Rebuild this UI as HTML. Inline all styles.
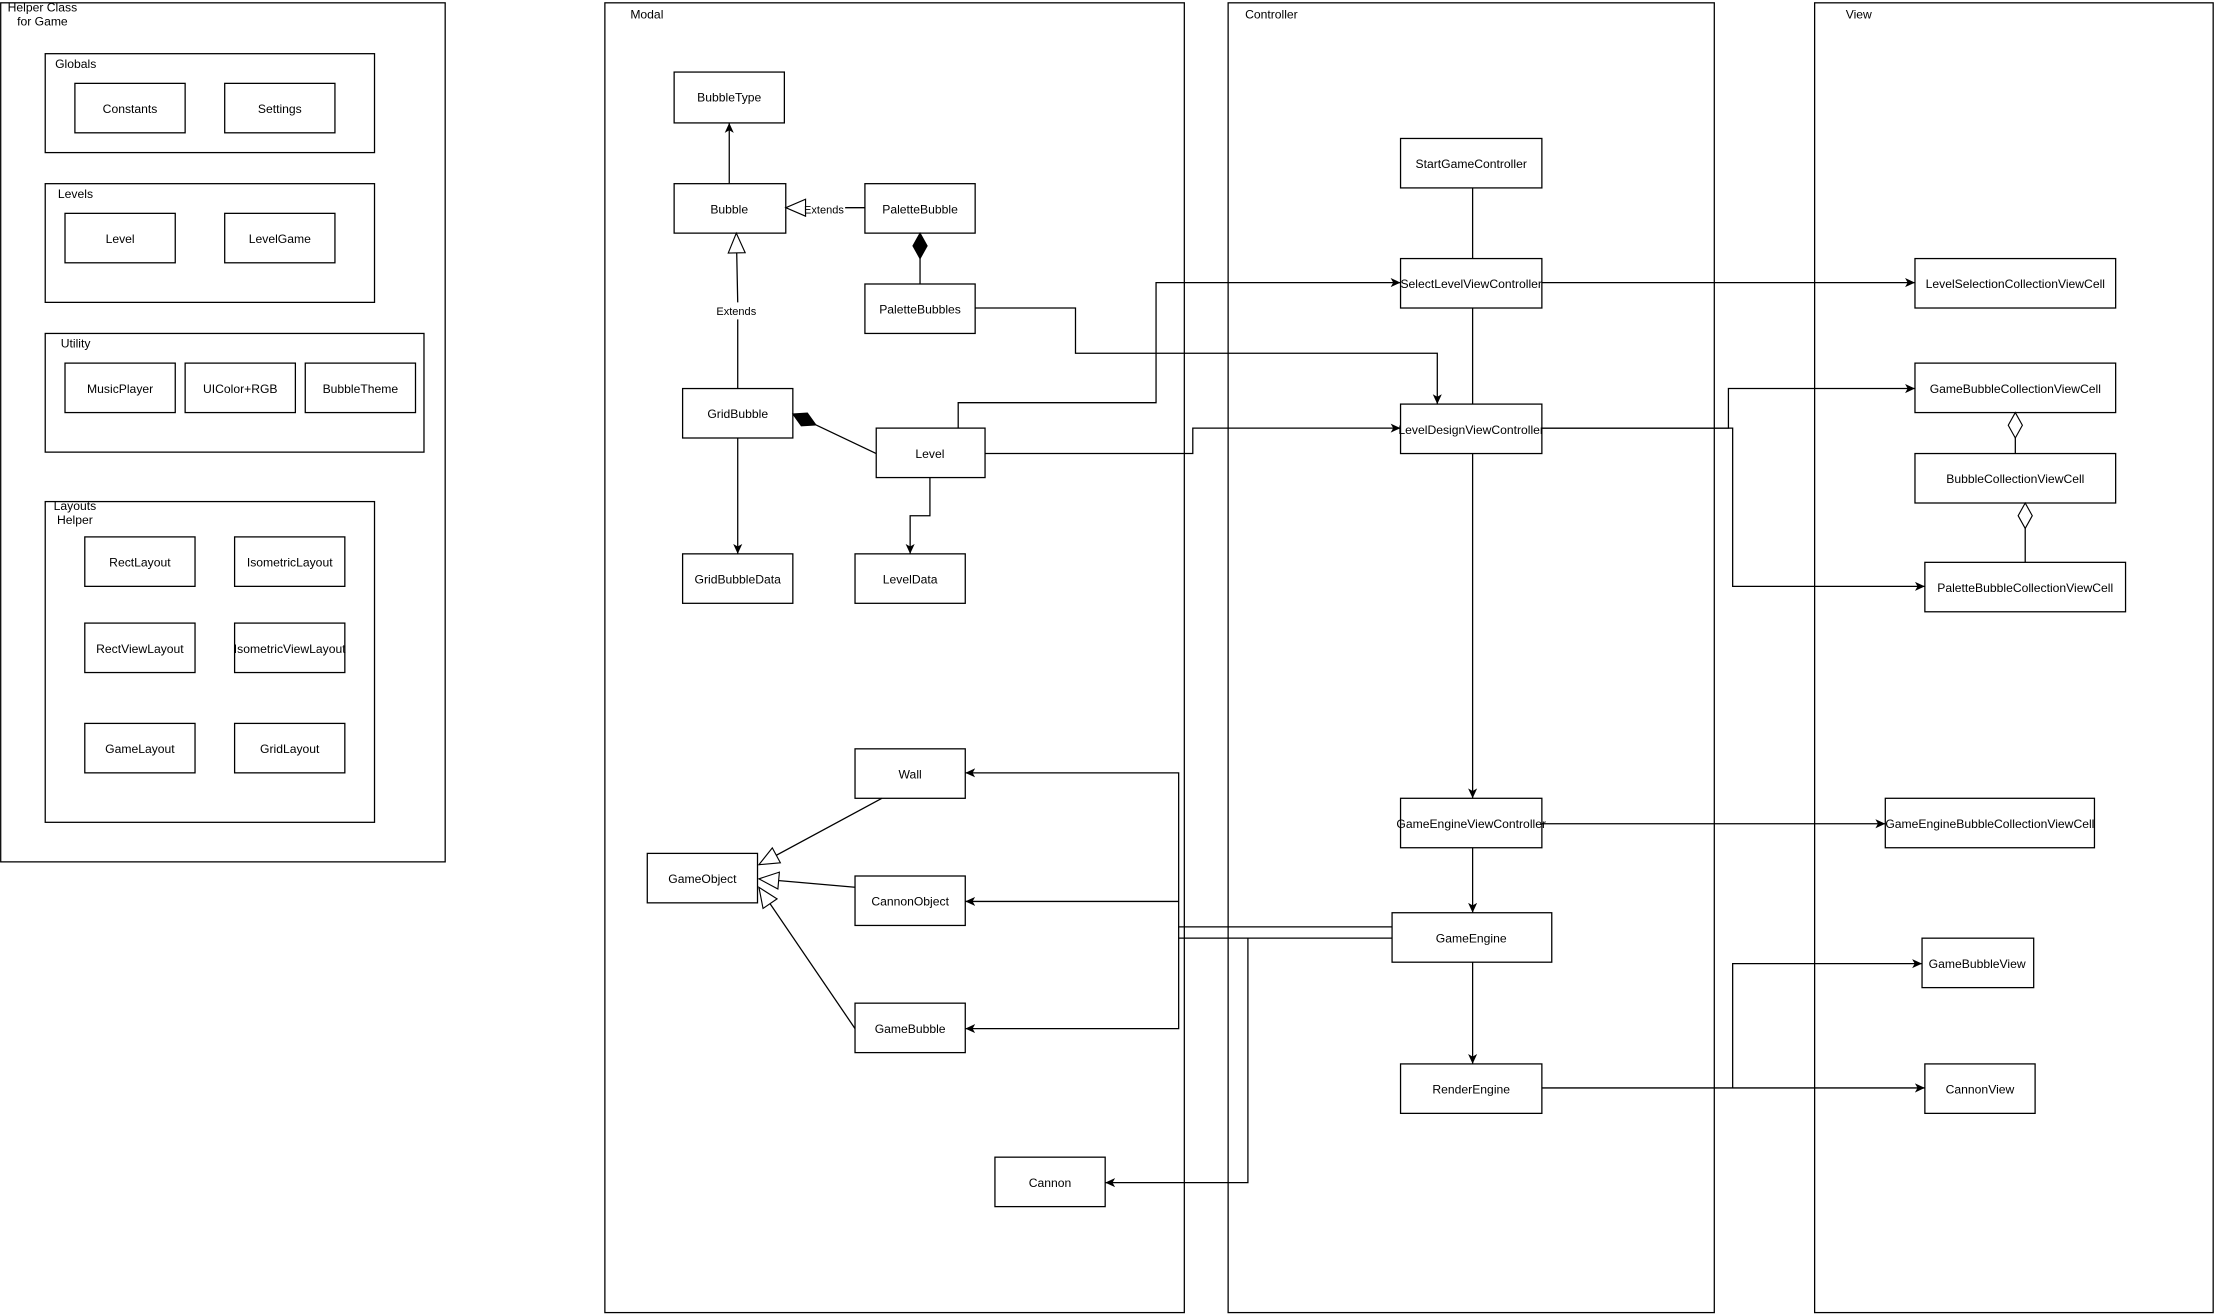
<!DOCTYPE html>
<html><head><meta charset="utf-8"><style>
html,body{margin:0;padding:0;background:#fff;}
svg{display:block}
text{font-family:"Liberation Sans",sans-serif;font-size:8.6px;fill:#000}
</style></head><body>
<svg width="2216" height="1314" viewBox="0 0 1568 930" preserveAspectRatio="none" xmlns="http://www.w3.org/2000/svg">
<defs>
<marker id="a" markerWidth="8" markerHeight="8" refX="7" refY="4" orient="auto" markerUnits="userSpaceOnUse"><path d="M0,0.8 L7,4 L0,7.2 L1.8,4 Z" fill="#000"/></marker>
<marker id="t" markerWidth="16" markerHeight="14" refX="15" refY="7" orient="auto" markerUnits="userSpaceOnUse"><path d="M1,1 L15,7 L1,13 Z" fill="#fff" stroke="#000" stroke-width="0.8"/></marker>
<marker id="df" markerWidth="20" markerHeight="12" refX="19" refY="6" orient="auto" markerUnits="userSpaceOnUse"><path d="M1,6 L10,1 L19,6 L10,11 Z" fill="#000" stroke="#000" stroke-width="0.8"/></marker>
<marker id="dh" markerWidth="20" markerHeight="12" refX="19" refY="6" orient="auto" markerUnits="userSpaceOnUse"><path d="M1,6 L10,1 L19,6 L10,11 Z" fill="#fff" stroke="#000" stroke-width="0.8"/></marker>
</defs>
<g fill="none" stroke="#000" stroke-width="0.9">
<rect x="0.5" y="2" width="314.5" height="608"/>
<rect x="32" y="38" width="233" height="70"/>
<rect x="32" y="130" width="233" height="84"/>
<rect x="32" y="236" width="268" height="84"/>
<rect x="32" y="355" width="233" height="227"/>
<rect x="428" y="2" width="410" height="927"/>
<rect x="869" y="2" width="344" height="927"/>
<rect x="1284" y="2" width="282" height="927"/>
<rect x="53" y="59" width="78" height="35"/><rect x="159" y="59" width="78" height="35"/>
<rect x="46" y="151" width="78" height="35"/><rect x="159" y="151" width="78" height="35"/>
<rect x="46" y="257" width="78" height="35"/><rect x="131" y="257" width="78" height="35"/><rect x="216" y="257" width="78" height="35"/>
<rect x="60" y="380" width="78" height="35"/><rect x="166" y="380" width="78" height="35"/>
<rect x="60" y="441" width="78" height="35"/><rect x="166" y="441" width="78" height="35"/>
<rect x="60" y="512" width="78" height="35"/><rect x="166" y="512" width="78" height="35"/>
<rect x="477" y="51" width="78" height="36"/>
<rect x="477" y="130" width="79" height="35"/>
<rect x="612" y="130" width="78" height="35"/>
<rect x="612" y="201" width="78" height="35"/>
<rect x="483" y="275" width="78" height="35"/>
<rect x="620" y="303" width="77" height="35"/>
<rect x="483" y="392" width="78" height="35"/>
<rect x="605" y="392" width="78" height="35"/>
<rect x="605" y="530" width="78" height="35"/>
<rect x="458" y="604" width="78" height="35"/>
<rect x="605" y="620" width="78" height="35"/>
<rect x="605" y="710" width="78" height="35"/>
<rect x="704" y="819" width="78" height="35"/>
<rect x="991" y="98" width="100" height="35"/>
<rect x="991" y="183" width="100" height="35"/>
<rect x="991" y="286" width="100" height="35"/>
<rect x="991" y="565" width="100" height="35"/>
<rect x="985" y="646" width="113" height="35"/>
<rect x="991" y="753" width="100" height="35"/>
<rect x="1355" y="183" width="142" height="35"/>
<rect x="1355" y="257" width="142" height="35"/>
<rect x="1355" y="321" width="142" height="35"/>
<rect x="1362" y="398" width="142" height="35"/>
<rect x="1334" y="565" width="148" height="35"/>
<rect x="1360" y="664" width="79" height="35"/>
<rect x="1362" y="753" width="78" height="35"/>
<path d="M516,130 L516,87" marker-end="url(#a)"/>
<path d="M612,147 L598,147 M569,147 L556,147" marker-end="url(#t)"/>
<path d="M522,275 L522,226 M522,214 L521,165" marker-end="url(#t)"/>
<path d="M651,201 L651,165" marker-end="url(#df)"/>
<path d="M620,321 L561,293" marker-end="url(#df)"/>
<path d="M522,310 L522,392" marker-end="url(#a)"/>
<path d="M658,338 L658,365 L644,365 L644,392" marker-end="url(#a)"/>
<path d="M678,303 L678,285 L818,285 L818,200 L991,200" marker-end="url(#a)"/>
<path d="M690,218 L761,218 L761,250 L1017,250 L1017,286" marker-end="url(#a)"/>
<path d="M697,321 L844,321 L844,303 L991,303" marker-end="url(#a)"/>
<path d="M1042,133 L1042,183 M1042,218 L1042,286"/>
<path d="M1042,321 L1042,565" marker-end="url(#a)"/>
<path d="M1042,600 L1042,646" marker-end="url(#a)"/>
<path d="M1042,681 L1042,753" marker-end="url(#a)"/>
<path d="M1091,200 L1355,200" marker-end="url(#a)"/>
<path d="M1091,303 L1223,303 L1223,275 L1355,275" marker-end="url(#a)"/>
<path d="M1091,303 L1226,303 L1226,415 L1362,415" marker-end="url(#a)"/>
<path d="M1426,321 L1426,292" marker-end="url(#dh)"/>
<path d="M1433,398 L1433,356" marker-end="url(#dh)"/>
<path d="M1091,583 L1334,583" marker-end="url(#a)"/>
<path d="M985,656 L834,656 L834,547 L683,547" marker-end="url(#a)"/>
<path d="M834,638 L683,638" marker-end="url(#a)"/>
<path d="M834,656 L834,728 L683,728" marker-end="url(#a)"/>
<path d="M985,664 L834,664 M883,664 L883,837 L782,837" marker-end="url(#a)"/>
<path d="M1091,770 L1362,770" marker-end="url(#a)"/>
<path d="M1226,770 L1226,682 L1360,682" marker-end="url(#a)"/>
<path d="M624,565 L537,612" marker-end="url(#t)"/>
<path d="M605,628 L537,622" marker-end="url(#t)"/>
<path d="M605,728 L537,628" marker-end="url(#t)"/>
</g>
<g text-anchor="middle">
<text x="30" y="8">Helper Class</text><text x="30" y="18">for Game</text>
<text x="92" y="80">Constants</text><text x="198" y="80">Settings</text>
<text x="85" y="172">Level</text><text x="198" y="172">LevelGame</text>
<text x="85" y="278">MusicPlayer</text><text x="170" y="278">UIColor+RGB</text><text x="255" y="278">BubbleTheme</text>
<text x="53" y="361">Layouts</text><text x="53" y="371">Helper</text>
<text x="99" y="401">RectLayout</text><text x="205" y="401">IsometricLayout</text>
<text x="99" y="462">RectViewLayout</text><text x="205" y="462">IsometricViewLayout</text>
<text x="99" y="533">GameLayout</text><text x="205" y="533">GridLayout</text>
<text x="516" y="72">BubbleType</text>
<text x="516" y="151">Bubble</text>
<text x="651" y="151">PaletteBubble</text>
<text x="583" y="151" style="font-size:7.8px">Extends</text>
<text x="521" y="223" style="font-size:7.8px">Extends</text>
<text x="651" y="222">PaletteBubbles</text>
<text x="522" y="296">GridBubble</text>
<text x="658" y="324">Level</text>
<text x="522" y="413">GridBubbleData</text>
<text x="644" y="413">LevelData</text>
<text x="644" y="551">Wall</text>
<text x="497" y="625">GameObject</text>
<text x="644" y="641">CannonObject</text>
<text x="644" y="731">GameBubble</text>
<text x="743" y="840">Cannon</text>
<text x="1041" y="119">StartGameController</text>
<text x="1041" y="204">SelectLevelViewController</text>
<text x="1041" y="307">LevelDesignViewController</text>
<text x="1041" y="586">GameEngineViewController</text>
<text x="1041" y="667">GameEngine</text>
<text x="1041" y="774">RenderEngine</text>
<text x="1426" y="204">LevelSelectionCollectionViewCell</text>
<text x="1426" y="278">GameBubbleCollectionViewCell</text>
<text x="1426" y="342">BubbleCollectionViewCell</text>
<text x="1433" y="419">PaletteBubbleCollectionViewCell</text>
<text x="1408" y="586">GameEngineBubbleCollectionViewCell</text>
<text x="1399" y="685">GameBubbleView</text>
<text x="1401" y="774">CannonView</text>
</g>
<g>
<text x="39" y="48">Globals</text>
<text x="41" y="140">Levels</text>
<text x="43" y="246">Utility</text>
<text x="446" y="13">Modal</text>
<text x="881" y="13">Controller</text>
<text x="1306" y="13">View</text>
</g>
</svg>
</body></html>
